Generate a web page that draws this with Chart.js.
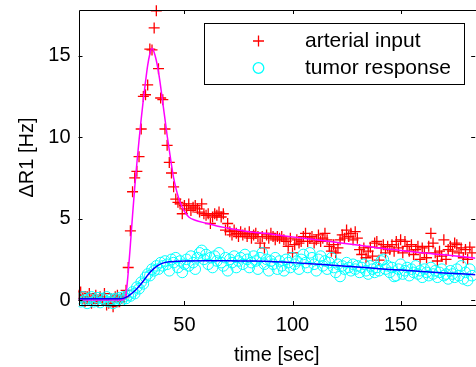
<!DOCTYPE html>
<html>
<head>
<meta charset="utf-8">
<script src="https://cdn.jsdelivr.net/npm/chart.js@4.4.1/dist/chart.umd.min.js"></script>
<style>
  html, body { margin: 0; padding: 0; background: #fff; overflow: hidden; }
  #wrap { width: 476px; height: 367px; overflow: hidden; }
  canvas { display: block; }
</style>
</head>
<body>
<div id="wrap"><canvas id="chart" width="482" height="367"></canvas></div>
<script>
  // sample times (sec)
  const time = [
    1, 2, 3, 4, 5, 6, 7, 8, 9, 10, 11, 12, 13, 14, 15, 16, 17, 18, 19, 20,
    21, 22, 23, 24, 25, 26, 27, 28, 29, 30, 31, 32, 33, 34, 35, 36, 37, 38, 39, 40,
    41, 42, 43, 44, 45, 46, 47, 48, 49, 50, 51, 52, 53, 54, 55, 56, 57, 58, 59, 60,
    61, 62, 63, 64, 65, 66, 67, 68, 69, 70, 71, 72, 73, 74, 75, 76, 77, 78, 79, 80,
    81, 82, 83, 84, 85, 86, 87, 88, 89, 90, 91, 92, 93, 94, 95, 96, 97, 98, 99, 100,
    101, 102, 103, 104, 105, 106, 107, 108, 109, 110, 111, 112, 113, 114, 115, 116, 117, 118, 119, 120,
    121, 122, 123, 124, 125, 126, 127, 128, 129, 130, 131, 132, 133, 134, 135, 136, 137, 138, 139, 140,
    141, 142, 143, 144, 145, 146, 147, 148, 149, 150, 151, 152, 153, 154, 155, 156, 157, 158, 159, 160,
    161, 162, 163, 164, 165, 166, 167, 168, 169, 170, 171, 172, 173, 174, 175, 176, 177, 178, 179, 180,
    181, 182, 183
  ];

  const arterialInput = [
    0.3, 0.5, 0.1, -0.1, 0.2, 0.4, -0.2, 0.1, 0.3, -0.1, 0.2, 0.0, 0.4, -0.3, -0.2, 0.1, -0.4, 0.2, 0.3, -0.1,
    0.1, 0.2, 0.6, 2.0, 4.25, 6.65, 7.5, 7.9, 8.8, 10.5, 12.5, 12.6, 13.2, 15.4, 15.35, 16.7, 17.75, 14.2, 12.4, 12.3,
    10.5, 9.5, 8.45, 7.8, 6.95, 6.2, 6.0, 5.9, 5.3, 5.8, 5.6, 5.9, 5.5, 5.7, 5.8, 5.6, 5.4, 5.9, 5.3, 5.2,
    5.3, 4.7, 5.1, 5.3, 5.2, 5.4, 5.1, 5.3, 4.3, 4.7, 4.2, 4.0, 4.3, 4.1, 3.9, 4.2, 4.0, 4.1, 3.9, 4.2,
    3.8, 4.0, 4.1, 3.9, 3.5, 3.9, 3.2, 4.0, 3.8, 4.1, 3.9, 3.7, 3.9, 3.8, 3.9, 3.7, 3.6, 3.3, 3.8, 2.9,
    3.4, 3.7, 3.5, 3.6, 3.9, 4.1, 3.6, 3.8, 3.9, 3.5, 3.7, 4.0, 3.6, 3.8, 4.1, 3.7, 3.3, 3.0, 3.4, 2.9,
    3.2, 3.7, 4.0, 3.8, 4.3, 3.9, 4.1, 3.7, 4.2, 3.8, 3.1, 2.8, 3.2, 2.6, 3.0, 3.25, 2.7, 3.5, 3.6, 2.45,
    3.2, 3.4, 2.9, 3.3, 3.1, 3.4, 3.0, 3.6, 3.2, 3.7, 2.9, 3.6, 3.3, 3.0, 3.4, 2.8, 3.1, 3.3, 2.5, 3.2,
    2.9, 2.6, 3.3, 4.1, 3.5, 2.9, 2.4, 3.0, 2.7, 3.7, 2.5, 3.1, 3.3, 3.0, 3.5, 3.4, 2.9, 3.2, 2.6, 3.1,
    2.5, 3.25, 2.9
  ];

  const tumorResponse = [
    0.1, -0.1, 0.2, 0.0, -0.2, 0.1, 0.2, -0.1, 0.0, 0.15, -0.15, 0.1, 0.0, 0.2, -0.1, 0.05, -0.2, 0.1, 0.0, 0.15,
    0.0, 0.2, 0.1, 0.3, 0.25, 0.5, 0.4, 0.8, 0.7, 1.1, 1.0, 1.4, 1.6, 1.5, 1.9, 1.8, 2.1, 1.9, 2.3, 2.1,
    2.4, 2.2, 1.8, 2.5, 2.3, 2.6, 2.0, 2.4, 1.7, 2.2, 2.5, 2.1, 2.7, 2.3, 1.9, 2.6, 2.9, 3.05, 2.5, 2.8,
    2.2, 2.6, 2.0, 2.7, 2.4, 2.9, 2.3, 2.1, 2.6, 1.8, 2.5, 2.3, 2.7, 2.0, 2.4, 2.6, 2.2, 2.8, 2.5, 2.0,
    2.3, 2.7, 2.4, 1.9, 2.6, 2.9, 2.2, 2.5, 1.8, 2.4, 2.2, 2.6, 1.9, 2.4, 2.1, 1.8, 2.5, 2.3, 2.0, 2.6,
    2.2, 2.4, 1.9, 2.5, 2.8, 2.3, 2.0, 2.9, 2.6, 2.2, 1.8, 2.5, 2.7, 2.1, 2.4, 1.9, 2.3, 2.6, 2.0, 1.7,
    2.2, 1.45, 2.1, 1.9, 2.3, 2.0, 1.8, 2.2, 1.9, 2.1, 1.7, 2.0, 2.2, 1.8, 1.6, 2.1, 1.9, 1.7, 2.0, 1.8,
    2.4, 2.5, 1.9, 2.1, 1.7, 2.0, 1.45, 1.5, 1.9, 2.2, 1.6, 1.8, 2.0, 1.5, 1.9, 1.7, 2.1, 1.6, 1.8, 1.4,
    1.9, 1.7, 1.5, 2.0, 1.6, 1.8, 1.4, 1.7, 1.9, 1.5, 1.6, 1.3, 1.8, 1.6, 1.4, 1.9, 1.5, 2.1, 1.3, 1.7,
    1.2, 1.9, 1.5
  ];

  // model fits
  const arterialFitTime = [
    1, 21, 22, 23, 24, 25, 26, 27, 28, 29, 30, 31, 32, 33, 34, 35, 36, 37, 38, 39, 40,
    41, 42, 43, 44, 45, 46, 47, 48, 49, 50, 52, 55, 60, 65, 70, 75, 80, 90, 100,
    110, 120, 130, 140, 150, 160, 170, 185
  ];
  const arterialFit = [
    0, 0, 0.05, 0.4, 1.7, 3.4, 5.2, 6.9, 8.4, 9.8, 11.1, 12.3, 13.4, 14.4, 15.1, 15.45, 15.2, 14.7, 14.0, 13.1, 12.1,
    11.1, 10.1, 9.2, 8.3, 7.5, 6.9, 6.4, 6.0, 5.7, 5.45, 5.1, 4.9, 4.72, 4.55, 4.42, 4.3, 4.2, 4.05, 3.88,
    3.72, 3.55, 3.38, 3.2, 3.05, 2.9, 2.78, 2.57
  ];

  const tumorFitTime = [
    1, 20, 22, 24, 26, 28, 30, 32, 34, 36, 38, 40, 43, 46, 50, 60, 70, 80, 90, 100,
    110, 120, 130, 140, 150, 160, 170, 185
  ];
  const tumorFit = [
    0.08, 0.08, 0.12, 0.25, 0.45, 0.7, 1.0, 1.35, 1.7, 1.95, 2.15, 2.27, 2.35, 2.38, 2.4, 2.42, 2.42, 2.4, 2.37, 2.3,
    2.22, 2.12, 2.03, 1.93, 1.84, 1.75, 1.67, 1.56
  ];

  const xTicks = [50, 100, 150];
  const yTicks = [0, 5, 10, 15];

  const FONT = "'Liberation Sans', Arial, Helvetica, sans-serif";

  function pairs(xs, ys) {
    return xs.map(function (x, i) { return { x: x, y: ys[i] }; });
  }

  function noEdgePadding(scale) {
    scale.paddingTop = 0;
    scale.paddingBottom = 0;
    scale.paddingLeft = 0;
    scale.paddingRight = 0;
  }

  // axes box with inward ticks, drawn over the data like MATLAB does
  const frame = {
    id: "frame",
    afterDatasetsDraw: function (chart) {
      const ctx = chart.ctx;
      const a = chart.chartArea;
      const xs = chart.scales.x;
      const ys = chart.scales.y;
      const len = 4;
      ctx.save();
      ctx.strokeStyle = "#000";
      ctx.lineWidth = 1;
      ctx.beginPath();
      ctx.rect(Math.round(a.left) + 0.5, Math.round(a.top) + 0.5,
        Math.round(a.right - a.left), Math.round(a.bottom - a.top));
      xTicks.forEach(function (v) {
        const px = Math.round(xs.getPixelForValue(v)) + 0.5;
        ctx.moveTo(px, a.bottom);
        ctx.lineTo(px, a.bottom - len);
        ctx.moveTo(px, a.top);
        ctx.lineTo(px, a.top + len);
      });
      yTicks.forEach(function (v) {
        const py = Math.round(ys.getPixelForValue(v)) + 0.5;
        ctx.moveTo(a.left, py);
        ctx.lineTo(a.left + len, py);
        ctx.moveTo(a.right, py);
        ctx.lineTo(a.right - len, py);
      });
      ctx.stroke();
      ctx.restore();
    }
  };

  const boxLegend = {
    id: "boxLegend",
    afterDraw: function (chart) {
      const ctx = chart.ctx;
      const left = 204, top = 23, w = 260, h = 61;
      const rows = [
        { y: 41, text: "arterial input", style: "cross", color: "#ff0000" },
        { y: 68, text: "tumor response", style: "circle", color: "#00ffff" }
      ];
      ctx.save();
      ctx.fillStyle = "#fff";
      ctx.fillRect(left, top, w, h);
      ctx.strokeStyle = "#000";
      ctx.lineWidth = 1;
      ctx.strokeRect(left + 0.5, top + 0.5, w, h);
      rows.forEach(function (row) {
        ctx.strokeStyle = row.color;
        ctx.lineWidth = 1.3;
        ctx.beginPath();
        if (row.style === "cross") {
          ctx.moveTo(253, row.y); ctx.lineTo(264, row.y);
          ctx.moveTo(258.5, row.y - 5.5); ctx.lineTo(258.5, row.y + 5.5);
        } else {
          ctx.arc(258.5, row.y, 5.3, 0, Math.PI * 2);
        }
        ctx.stroke();
        ctx.fillStyle = "#000";
        ctx.font = "21px " + FONT;
        ctx.textBaseline = "middle";
        ctx.textAlign = "left";
        ctx.fillText(row.text, 305, row.y);
      });
      ctx.restore();
    }
  };

  new Chart(document.getElementById("chart").getContext("2d"), {
    type: "scatter",
    data: {
      datasets: [
        {
          label: "arterial input",
          data: pairs(time, arterialInput),
          pointStyle: "cross",
          pointRadius: 5.5,
          pointBorderWidth: 1.3,
          borderColor: "#ff0000",
          backgroundColor: "#ff0000",
          showLine: false,
          clip: { left: 0, top: 8, right: 8, bottom: 8 },
          order: 3
        },
        {
          label: "tumor response",
          data: pairs(time, tumorResponse),
          pointStyle: "circle",
          pointRadius: 5.3,
          pointBorderWidth: 1,
          borderColor: "#00ffff",
          backgroundColor: "rgba(0,0,0,0)",
          showLine: false,
          clip: { left: 0, top: 8, right: 8, bottom: 8 },
          order: 2
        },
        {
          label: "arterial fit",
          data: pairs(arterialFitTime, arterialFit),
          showLine: true,
          borderColor: "#ff00ff",
          borderWidth: 1.5,
          pointRadius: 0,
          cubicInterpolationMode: "monotone",
          order: 1
        },
        {
          label: "tumor fit",
          data: pairs(tumorFitTime, tumorFit),
          showLine: true,
          borderColor: "#0000ff",
          borderWidth: 1.5,
          pointRadius: 0,
          cubicInterpolationMode: "monotone",
          order: 0
        }
      ]
    },
    options: {
      responsive: false,
      animation: false,
      devicePixelRatio: 1,
      layout: { padding: { top: 10, right: 3, left: 0, bottom: 0 } },
      plugins: {
        legend: { display: false },
        tooltip: { enabled: false }
      },
      scales: {
        x: {
          type: "linear",
          min: 1,
          max: 184.5,
          grid: { display: false, drawTicks: false },
          border: { display: false },
          afterBuildTicks: function (scale) {
            scale.ticks = xTicks.map(function (v) { return { value: v }; });
          },
          afterFit: function (scale) { scale.height = 62; noEdgePadding(scale); },
          ticks: {
            color: "#000",
            font: { family: FONT, size: 20 },
            padding: 8,
            maxRotation: 0,
            autoSkip: false
          },
          title: {
            display: true,
            text: "time [sec]",
            color: "#000",
            font: { family: FONT, size: 20 },
            padding: { top: 0, bottom: 0 }
          }
        },
        y: {
          type: "linear",
          min: -0.3,
          max: 17.8,
          grid: { display: false, drawTicks: false },
          border: { display: false },
          afterBuildTicks: function (scale) {
            scale.ticks = yTicks.map(function (v) { return { value: v }; });
          },
          afterFit: function (scale) { scale.width = 78.5; noEdgePadding(scale); },
          ticks: {
            color: "#000",
            font: { family: FONT, size: 20 },
            padding: 8,
            autoSkip: false
          },
          title: {
            display: true,
            text: "ΔR1 [Hz]",
            color: "#000",
            font: { family: FONT, size: 20 },
            padding: { top: 15, bottom: 0 }
          }
        }
      }
    },
    plugins: [frame, boxLegend]
  });
</script>
</body>
</html>
